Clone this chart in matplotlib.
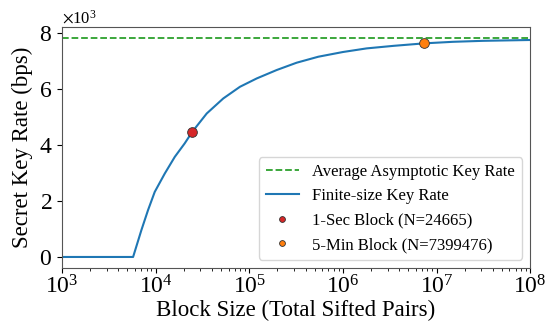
import matplotlib
matplotlib.use("Agg")
import matplotlib.pyplot as plt

plt.rcParams["font.family"] = ["Liberation Serif", "DejaVu Serif"]
plt.rcParams["mathtext.fontset"] = "stix"

# block size vs finite-size key rate
block_size = [1e3, 2e3, 4e3, 5.74e3, 7.03e3, 8.28e3, 9.77e3, 1.25e4, 1.60e4, 2.04e4,
              24665, 3.51e4, 5.27e4, 7.95e4, 1.20e5, 1.96e5, 3.20e5, 5.46e5,
              1.0e6, 1.79e6, 3.5e6, 7399476, 1.5e7, 3.15e7, 1e8]
key_rate = [0, 0, 0, 0, 953, 1668, 2321, 2975, 3571, 4050,
            4470, 5118, 5654, 6071, 6368, 6668, 6929, 7143,
            7311, 7440, 7532, 7620, 7675, 7710, 7740]

asymptotic_rate = 7800

one_sec_n = 24665
one_sec_rate = 4470
five_min_n = 7399476
five_min_rate = 7620

fig, ax = plt.subplots(figsize=(5.54, 3.22), dpi=100)

ax.axhline(asymptotic_rate, color="tab:green", linestyle="--", linewidth=1.3,
           label="Average Asymptotic Key Rate")
ax.plot(block_size, key_rate, color="tab:blue", linewidth=1.5,
        label="Finite-size Key Rate")
ax.plot(one_sec_n, one_sec_rate, "o", color="tab:red", markeredgecolor="#333333",
        markeredgewidth=0.6, markersize=7, linestyle="none",
        label=f"1-Sec Block (N={one_sec_n})")
ax.plot(five_min_n, five_min_rate, "o", color="tab:orange", markeredgecolor="#333333",
        markeredgewidth=0.6, markersize=7, linestyle="none",
        label=f"5-Min Block (N={five_min_n})")

ax.set_xscale("log")
ax.set_xlim(1e3, 1e8)
ax.ticklabel_format(axis="y", style="sci", scilimits=(3, 3), useMathText=True)
ax.yaxis.get_offset_text().set_fontsize(12)
ax.tick_params(labelsize=17)
ax.tick_params(axis="x", pad=2)
for spine in ax.spines.values():
    spine.set_color("#555555")

ax.set_xlabel("Block Size (Total Sifted Pairs)", fontsize=16.5, labelpad=1)
ax.set_ylabel("Secret Key Rate (bps)", fontsize=16.5, labelpad=4)
ax.legend(fontsize=12, loc="lower right", markerscale=0.6)

fig.subplots_adjust(left=0.112, right=0.957, top=0.915, bottom=0.168)
plt.savefig("out.png", dpi=100)
plt.close("all")
